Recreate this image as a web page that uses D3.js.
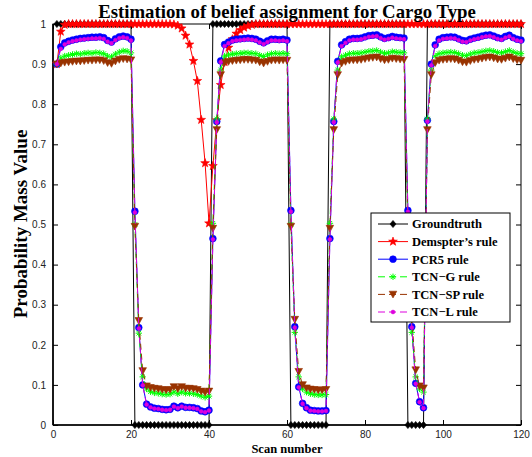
<!DOCTYPE html>
<html><head><meta charset="utf-8">
<script src="https://cdn.jsdelivr.net/npm/d3@7"></script>
<style>body{margin:0;background:#fff}svg{display:block}</style>
</head><body>
<svg id="chart" width="532" height="457"></svg>
<script>
const titleText = "Estimation of belief assignment for Cargo Type";
const xLabel = "Scan number";
const yLabel = "Probability Mass Value";
const xTicks = [0, 20, 40, 60, 80, 100, 120];
const yTicks = [0, 0.1, 0.2, 0.3, 0.4, 0.5, 0.6, 0.7, 0.8, 0.9, 1];
const yTickLabels = ["0", "0.1", "0.2", "0.3", "0.4", "0.5", "0.6", "0.7", "0.8", "0.9", "1"];
const seriesNames = ["Groundtruth", "Demspter\u2019s rule", "PCR5 rule", "TCN\u2212G rule", "TCN\u2212SP rule", "TCN\u2212L rule"];

const scans = d3.range(1, 121);

const groundtruth = [
1,1,1,1,1,1,1,1,1,1,
1,1,1,1,1,1,1,1,1,1,
0,0,0,0,0,0,0,0,0,0,
0,0,0,0,0,0,0,0,0,0,
1,1,1,1,1,1,1,1,1,1,
1,1,1,1,1,1,1,1,1,1,
0,0,0,0,0,0,0,0,0,0,
1,1,1,1,1,1,1,1,1,1,
1,1,1,1,1,1,1,1,1,1,
0,0,0,0,0,1,1,1,1,1,
1,1,1,1,1,1,1,1,1,1,
1,1,1,1,1,1,1,1,1,1];

const dempster = [
0.900,0.981,0.998,1,1,1,1,1,1,1,
1,1,1,1,1,1,1,1,1,1,
1,1,1,1,1,1,1,1,1,1,
0.999,0.996,0.989,0.971,0.949,0.908,0.858,0.761,0.653,0.503,
0.646,0.760,0.848,0.905,0.941,0.962,0.976,0.985,0.991,0.995,
0.998,1,1,1,1,1,1,1,1,1,
1,1,1,1,1,1,1,1,1,1,
1,1,1,1,1,1,1,1,1,1,
1,1,1,1,1,1,1,1,1,1,
1,1,1,1,1,1,1,1,1,1,
1,1,1,1,1,1,1,1,1,1,
1,1,1,1,1,1,1,1,1,1];

const pcr5 = [
0.900,0.943,0.953,0.957,0.960,0.962,0.964,0.965,0.966,0.967,
0.967,0.968,0.966,0.959,0.955,0.963,0.968,0.970,0.968,0.962,
0.533,0.243,0.100,0.052,0.045,0.042,0.041,0.039,0.038,0.039,
0.047,0.043,0.047,0.044,0.044,0.043,0.041,0.035,0.033,0.037,
0.465,0.757,0.908,0.949,0.955,0.960,0.962,0.963,0.964,0.965,
0.964,0.962,0.957,0.953,0.958,0.962,0.962,0.961,0.962,0.960,
0.535,0.245,0.095,0.054,0.043,0.037,0.036,0.035,0.035,0.036,
0.465,0.757,0.907,0.948,0.956,0.962,0.964,0.964,0.965,0.968,
0.971,0.972,0.973,0.968,0.964,0.966,0.969,0.967,0.966,0.965,
0.535,0.245,0.104,0.058,0.043,0.760,0.900,0.948,0.962,0.966,
0.967,0.968,0.967,0.963,0.959,0.958,0.962,0.965,0.967,0.970,
0.972,0.973,0.970,0.966,0.964,0.969,0.972,0.966,0.962,0.960];

const tcnG = [
0.900,0.915,0.920,0.922,0.924,0.926,0.925,0.927,0.928,0.927,
0.929,0.928,0.926,0.920,0.918,0.925,0.930,0.933,0.932,0.928,
0.500,0.229,0.120,0.090,0.083,0.080,0.079,0.077,0.076,0.077,
0.082,0.078,0.082,0.079,0.079,0.078,0.076,0.072,0.069,0.072,
0.503,0.763,0.885,0.920,0.923,0.925,0.926,0.927,0.928,0.928,
0.927,0.926,0.922,0.919,0.923,0.926,0.927,0.926,0.927,0.926,
0.500,0.231,0.120,0.090,0.082,0.078,0.076,0.075,0.075,0.076,
0.503,0.763,0.885,0.918,0.922,0.926,0.927,0.927,0.928,0.930,
0.932,0.933,0.934,0.930,0.927,0.928,0.931,0.930,0.929,0.928,
0.500,0.231,0.120,0.090,0.082,0.763,0.885,0.920,0.926,0.928,
0.929,0.930,0.929,0.926,0.922,0.921,0.925,0.928,0.929,0.931,
0.933,0.934,0.932,0.929,0.928,0.931,0.934,0.930,0.927,0.926];

const tcnSP = [
0.900,0.902,0.904,0.905,0.906,0.907,0.907,0.908,0.909,0.909,
0.910,0.910,0.908,0.903,0.901,0.907,0.911,0.913,0.912,0.910,
0.495,0.260,0.135,0.097,0.093,0.091,0.090,0.088,0.087,0.088,
0.095,0.090,0.095,0.091,0.091,0.090,0.088,0.084,0.081,0.084,
0.490,0.736,0.873,0.903,0.906,0.908,0.909,0.910,0.911,0.911,
0.910,0.909,0.905,0.902,0.906,0.909,0.910,0.909,0.910,0.909,
0.495,0.263,0.133,0.100,0.092,0.089,0.088,0.087,0.087,0.088,
0.490,0.736,0.873,0.902,0.906,0.909,0.910,0.910,0.911,0.913,
0.915,0.916,0.917,0.913,0.910,0.911,0.914,0.913,0.912,0.911,
0.495,0.263,0.137,0.097,0.092,0.736,0.873,0.903,0.909,0.911,
0.912,0.913,0.912,0.909,0.905,0.904,0.908,0.911,0.912,0.914,
0.916,0.917,0.915,0.912,0.911,0.914,0.917,0.913,0.910,0.909];

const tcnL = [
0.900,0.938,0.949,0.954,0.957,0.959,0.961,0.962,0.963,0.964,
0.964,0.965,0.963,0.956,0.952,0.960,0.965,0.967,0.965,0.959,
0.530,0.241,0.099,0.051,0.044,0.041,0.040,0.038,0.037,0.038,
0.046,0.042,0.046,0.043,0.043,0.042,0.040,0.034,0.032,0.036,
0.463,0.755,0.905,0.945,0.952,0.957,0.959,0.960,0.961,0.962,
0.961,0.959,0.954,0.950,0.955,0.959,0.959,0.958,0.959,0.957,
0.532,0.243,0.094,0.053,0.042,0.036,0.035,0.034,0.034,0.035,
0.463,0.755,0.904,0.945,0.953,0.959,0.961,0.961,0.962,0.965,
0.968,0.969,0.970,0.965,0.961,0.963,0.966,0.964,0.963,0.962,
0.532,0.243,0.103,0.057,0.042,0.757,0.897,0.945,0.959,0.963,
0.964,0.965,0.964,0.960,0.956,0.955,0.959,0.962,0.964,0.967,
0.969,0.970,0.967,0.963,0.961,0.966,0.969,0.963,0.959,0.957];

const serifFont = '"Liberation Serif","Times New Roman",Times,serif';
const sansFont = '"Liberation Sans",Arial,Helvetica,sans-serif';

const svg = d3.select('#chart');
const X0 = 53, X1 = 521, Y0 = 425, Y1 = 24;
const x = d3.scaleLinear().domain([0, 120]).range([X0, X1]);
const y = d3.scaleLinear().domain([0, 1]).range([Y0, Y1]);

// axes
const axB = svg.append('g').attr('transform', `translate(0,${Y0})`)
  .call(d3.axisBottom(x).tickValues(xTicks).tickSizeInner(-5).tickSizeOuter(0).tickPadding(6));
const axL = svg.append('g').attr('transform', `translate(${X0},0)`)
  .call(d3.axisLeft(y).tickValues(yTicks).tickFormat((d, i) => yTickLabels[i]).tickSizeInner(-5).tickSizeOuter(0).tickPadding(7));
const axT = svg.append('g').attr('transform', `translate(0,${Y1})`)
  .call(d3.axisTop(x).tickValues(xTicks).tickSizeInner(-5).tickSizeOuter(0).tickFormat(''));
const axR = svg.append('g').attr('transform', `translate(${X1},0)`)
  .call(d3.axisRight(y).tickValues(yTicks).tickSizeInner(-5).tickSizeOuter(0).tickFormat(''));
[axB, axL, axT, axR].forEach(g => {
  g.select('.domain').remove();
  g.selectAll('line').attr('stroke', '#000');
  g.selectAll('text').attr('font-family', sansFont).attr('font-size', 10).attr('fill', '#222');
});
svg.append('rect').attr('x', X0).attr('y', Y1).attr('width', X1 - X0).attr('height', Y0 - Y1)
  .attr('fill', 'none').attr('stroke', '#000').attr('stroke-width', 1);
svg.append('line').attr('x1', X0).attr('x2', X1).attr('y1', Y0).attr('y2', Y0).attr('stroke', '#000').attr('stroke-width', 1.6);
svg.append('line').attr('x1', X0).attr('x2', X0).attr('y1', Y1).attr('y2', Y0).attr('stroke', '#000').attr('stroke-width', 1.6);

// marker shapes
const starPath = (() => {
  const pts = [];
  for (let i = 0; i < 10; i++) {
    const r = i % 2 === 0 ? 4.6 : 1.9;
    const a = -Math.PI / 2 + i * Math.PI / 5;
    pts.push([r * Math.cos(a), r * Math.sin(a)]);
  }
  return 'M' + pts.map(p => p[0].toFixed(2) + ',' + p[1].toFixed(2)).join('L') + 'Z';
})();
const markers = {
  diamond: {d: 'M0,-3.6L3,0L0,3.6L-3,0Z', fill: true},
  star: {d: starPath, fill: true},
  circle: {d: 'M3.4,0A3.4,3.4 0 1,1 -3.4,0A3.4,3.4 0 1,1 3.4,0Z', fill: true},
  asterisk: {d: 'M-3.2,0H3.2M0,-3.2V3.2M-2.3,-2.3L2.3,2.3M-2.3,2.3L2.3,-2.3', fill: false},
  triDown: {d: 'M-3.8,-3.2L3.8,-3.2L0,3.6Z', fill: true},
  dot: {d: 'M1.9,0A1.9,1.9 0 1,1 -1.9,0A1.9,1.9 0 1,1 1.9,0Z', fill: true}
};

const series = [
  {name: seriesNames[0], values: groundtruth, color: '#000000', dash: null, marker: 'diamond'},
  {name: seriesNames[1], values: dempster, color: '#ff0000', dash: null, marker: 'star'},
  {name: seriesNames[2], values: pcr5, color: '#0000ff', dash: null, marker: 'circle'},
  {name: seriesNames[3], values: tcnG, color: '#00ff00', dash: '6,4', marker: 'asterisk'},
  {name: seriesNames[4], values: tcnSP, color: '#993300', dash: '6,4', marker: 'triDown'},
  {name: seriesNames[5], values: tcnL, color: '#dd00dd', dash: '6,4', marker: 'dot'}
];

const line = d3.line().x((d, i) => x(scans[i])).y(d => y(d));

function drawMarker(g, m, color, tx, ty) {
  const mk = markers[m];
  g.append('path').attr('d', mk.d).attr('transform', `translate(${tx},${ty})`)
    .attr('fill', mk.fill ? color : 'none').attr('stroke', color).attr('stroke-width', mk.fill ? 0.6 : 1);
}

series.forEach(s => {
  const g = svg.append('g');
  g.append('path').datum(s.values).attr('d', line).attr('fill', 'none')
    .attr('stroke', s.color).attr('stroke-width', 1).attr('stroke-dasharray', s.dash);
  s.values.forEach((v, i) => drawMarker(g, s.marker, s.color, x(scans[i]), y(v)));
});

// legend
const lg = svg.append('g');
lg.append('rect').attr('x', 371).attr('y', 213).attr('width', 139).attr('height', 109)
  .attr('fill', '#fff').attr('stroke', '#000').attr('stroke-width', 1);
series.forEach((s, i) => {
  const ly = 224 + i * 17.6;
  lg.append('line').attr('x1', 378).attr('x2', 408).attr('y1', ly).attr('y2', ly)
    .attr('stroke', s.color).attr('stroke-width', 1).attr('stroke-dasharray', s.dash ? '7,4' : null);
  drawMarker(lg, s.marker, s.color, 393, ly);
  lg.append('text').attr('x', 412).attr('y', ly).attr('dy', '0.35em')
    .attr('font-family', serifFont).attr('font-weight', 'bold').attr('font-size', 12.5).text(s.name);
});

// labels
svg.append('text').attr('x', 287).attr('y', 18).attr('text-anchor', 'middle')
  .attr('font-family', serifFont).attr('font-weight', 'bold').attr('font-size', 18.8).text(titleText);
svg.append('text').attr('x', 287).attr('y', 453).attr('text-anchor', 'middle')
  .attr('font-family', serifFont).attr('font-weight', 'bold').attr('font-size', 12.5).text(xLabel);
svg.append('text').attr('transform', 'translate(27,224) rotate(-90)').attr('text-anchor', 'middle')
  .attr('font-family', serifFont).attr('font-weight', 'bold').attr('font-size', 19).text(yLabel);
</script>
</body></html>
